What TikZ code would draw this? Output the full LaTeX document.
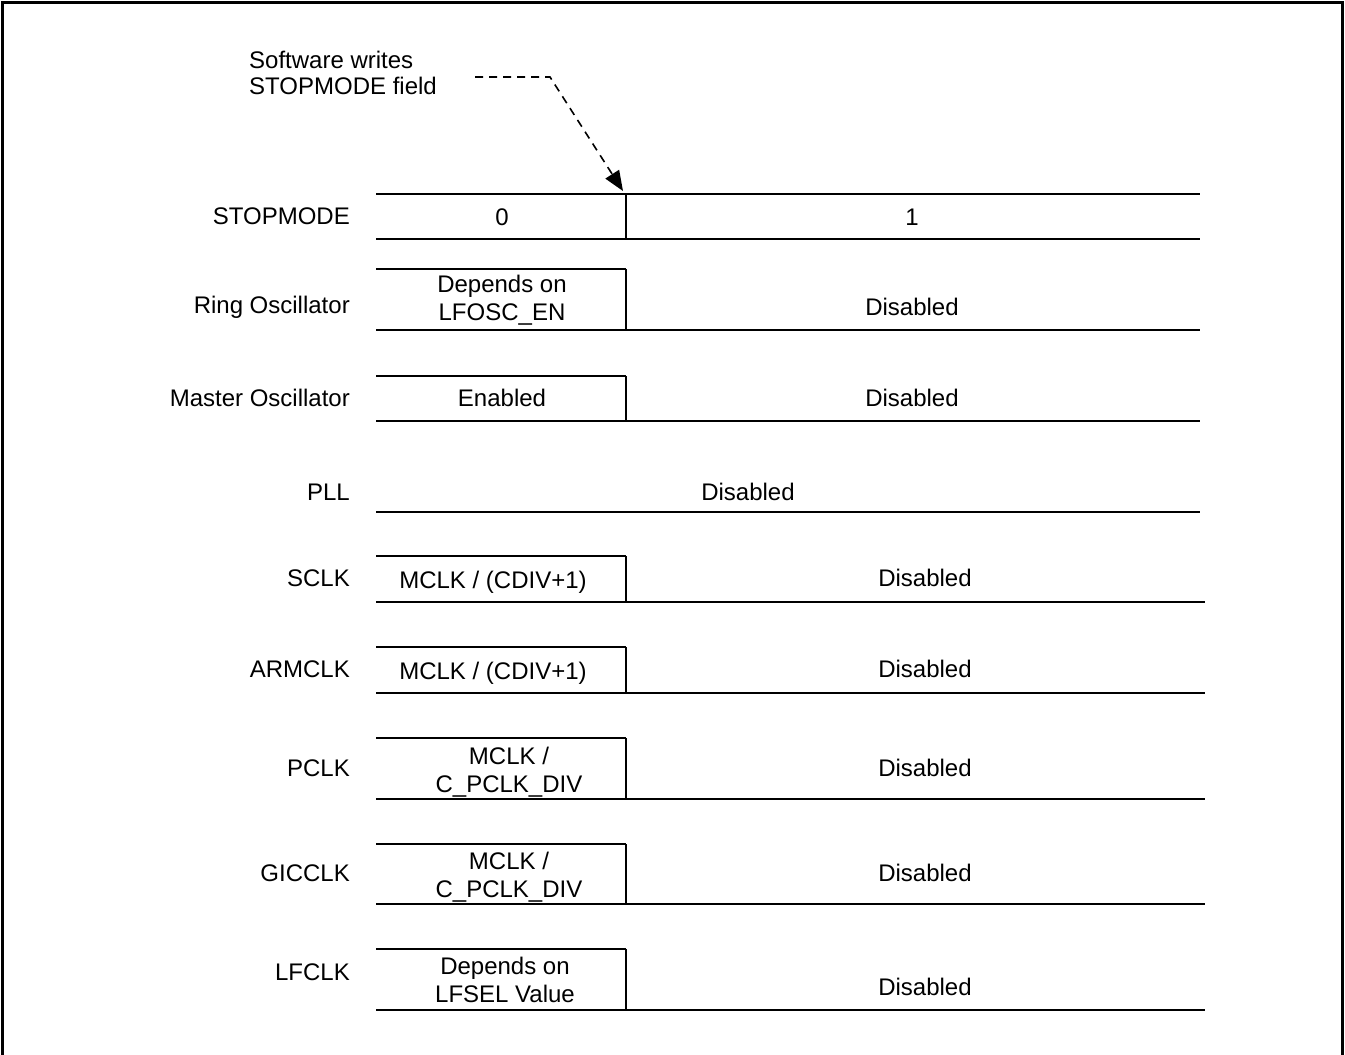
\documentclass[tikz,border=0pt]{standalone}
\usepackage{fontspec}
\setmainfont{Liberation Sans}
\usetikzlibrary{arrows.meta}
\begin{document}
\begin{tikzpicture}[x=1pt,y=-1pt,
  lbl/.style={anchor=east,font=\fontsize{24}{28}\selectfont,inner sep=0pt},
  txt/.style={align=center,font=\fontsize{24}{28}\selectfont,inner sep=0pt},
  hl/.style={line width=2pt},
  vl/.style={line width=1.5pt}]
\useasboundingbox (0,0) rectangle (1345,1055);
\draw[line width=3pt] (2,1056) -- (2,2) -- (1342,2) -- (1342,1056);

% annotation
\node[anchor=north west,align=left,font=\fontsize{24}{26}\selectfont,inner sep=0pt] (note) at (249,51) {Software writes\\STOPMODE field};
\coordinate (d0) at (475,77);
\coordinate (d1) at (550,77);
\coordinate (tip) at (623,191);
\draw[line width=1.6pt,dash pattern=on 8pt off 6pt,-{Triangle[length=20pt,width=16pt]}] (d0) -- (d1) -- (tip);

% STOPMODE
\node[lbl] (l1) at (350,216) {STOPMODE};
\draw[hl] (376,194) -- (1200,194);
\draw[hl] (376,239) -- (1200,239);
\draw[vl] (626,194) -- (626,239);
\node[txt] (s0) at (502,217) {0};
\node[txt] (s1) at (912,217) {1};

% Ring oscillator
\node[lbl] (l2) at (350,307) {Ring Oscillator};
\draw[hl] (376,269) -- (626,269);
\draw[vl] (626,269) -- (626,330);
\draw[hl] (376,330) -- (1200,330);
\node[txt] (r0) at (502,300) {Depends on\\LFOSC\_EN};
\node[txt] (r1) at (912,307) {Disabled};

% Master oscillator
\node[lbl] (l3) at (350,398) {Master Oscillator};
\draw[hl] (376,376) -- (626,376);
\draw[vl] (626,376) -- (626,421);
\draw[hl] (376,421) -- (1200,421);
\node[txt] (m0) at (502,398) {Enabled};
\node[txt] (m1) at (912,398) {Disabled};

% PLL
\node[lbl] (l4) at (350,492) {PLL};
\draw[hl] (376,512) -- (1200,512);
\node[txt] (p1) at (748,492) {Disabled};

% SCLK
\node[lbl] (l5) at (350,578) {SCLK};
\draw[hl] (376,556) -- (626,556);
\draw[vl] (626,556) -- (626,602);
\draw[hl] (376,602) -- (1205,602);
\node[txt] (c0) at (493,582) {MCLK / (CDIV+1)};
\node[txt] (c1) at (925,578) {Disabled};

% ARMCLK
\node[lbl] (l6) at (350,669) {ARMCLK};
\draw[hl] (376,647) -- (626,647);
\draw[vl] (626,647) -- (626,693);
\draw[hl] (376,693) -- (1205,693);
\node[txt] (a0) at (493,673) {MCLK / (CDIV+1)};
\node[txt] (a1) at (925,669) {Disabled};

% PCLK
\node[lbl] (l7) at (350,768) {PCLK};
\draw[hl] (376,738) -- (626,738);
\draw[vl] (626,738) -- (626,799);
\draw[hl] (376,799) -- (1205,799);
\node[txt] (pc0) at (509,772) {MCLK /\\C\_PCLK\_DIV};
\node[txt] (pc1) at (925,768) {Disabled};

% GICCLK
\node[lbl] (l8) at (350,873) {GICCLK};
\draw[hl] (376,844) -- (626,844);
\draw[vl] (626,844) -- (626,904);
\draw[hl] (376,904) -- (1205,904);
\node[txt] (g0) at (509,877) {MCLK /\\C\_PCLK\_DIV};
\node[txt] (g1) at (925,873) {Disabled};

% LFCLK
\node[lbl] (l9) at (350,972) {LFCLK};
\draw[hl] (376,949) -- (626,949);
\draw[vl] (626,949) -- (626,1010);
\draw[hl] (376,1010) -- (1205,1010);
\node[txt] (lf0) at (505,980) {Depends on\\LFSEL Value};
\node[txt] (lf1) at (925,987) {Disabled};
\end{tikzpicture}
\end{document}
